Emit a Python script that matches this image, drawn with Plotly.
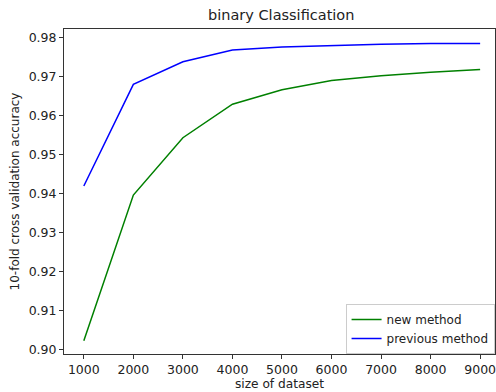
import plotly.graph_objects as go

sizes = [1000, 2000, 3000, 4000, 5000, 6000, 7000, 8000, 9000]
new_method = [0.9023, 0.9397, 0.9544, 0.9630, 0.9667, 0.9691, 0.9703, 0.9712, 0.9719]
previous_method = [0.9420, 0.9681, 0.9739, 0.9769, 0.9777, 0.9781, 0.9784, 0.9786, 0.9786]
x_ticks = [1000, 2000, 3000, 4000, 5000, 6000, 7000, 8000, 9000]
y_ticks = [0.90, 0.91, 0.92, 0.93, 0.94, 0.95, 0.96, 0.97, 0.98]

font = "DejaVu Sans"
fig = go.Figure()
fig.add_trace(go.Scatter(x=sizes, y=new_method, mode="lines", name="new method",
                         line=dict(color="#008000", width=1.5)))
fig.add_trace(go.Scatter(x=sizes, y=previous_method, mode="lines", name="previous method",
                         line=dict(color="#0000ff", width=1.5)))

axis_common = dict(showgrid=False, zeroline=False, showline=True, linecolor="#333333",
                   linewidth=1, mirror=True, ticks="outside", ticklen=4, tickcolor="#333333",
                   ticklabeloverflow="allow",
                   tickfont=dict(family=font, size=12.5, color="#222222"))
fig.update_layout(
    width=496, height=392,
    margin=dict(l=64, r=1, t=29, b=38),
    paper_bgcolor="white", plot_bgcolor="white",
    title=dict(text="binary Classification", x=0.567, xanchor="center", y=0.962, yanchor="middle",
               font=dict(family=font, size=14.5, color="#222222")),
    xaxis=dict(range=[600, 9300], tickvals=x_ticks, ticktext=[str(v) for v in x_ticks],
               title=dict(text="size of dataset", standoff=3,
                          font=dict(family=font, size=12.2, color="#222222")),
               **axis_common),
    yaxis=dict(range=[0.8989, 0.9823], tickvals=y_ticks, ticktext=["%.2f" % v for v in y_ticks],
               title=dict(text="10-fold cross validation accuracy", standoff=6,
                          font=dict(family=font, size=12, color="#222222")),
               **axis_common),
    legend=dict(x=0.999, y=0.0, xanchor="right", yanchor="bottom",
                bgcolor="white", bordercolor="#cccccc", borderwidth=1, itemwidth=30,
                tracegroupgap=0,
                font=dict(family=font, size=12, color="#222222")),
    showlegend=True,
)
fig.write_html("out.html", config={"displayModeBar": False},
               post_script="document.body.style.margin='0';")
